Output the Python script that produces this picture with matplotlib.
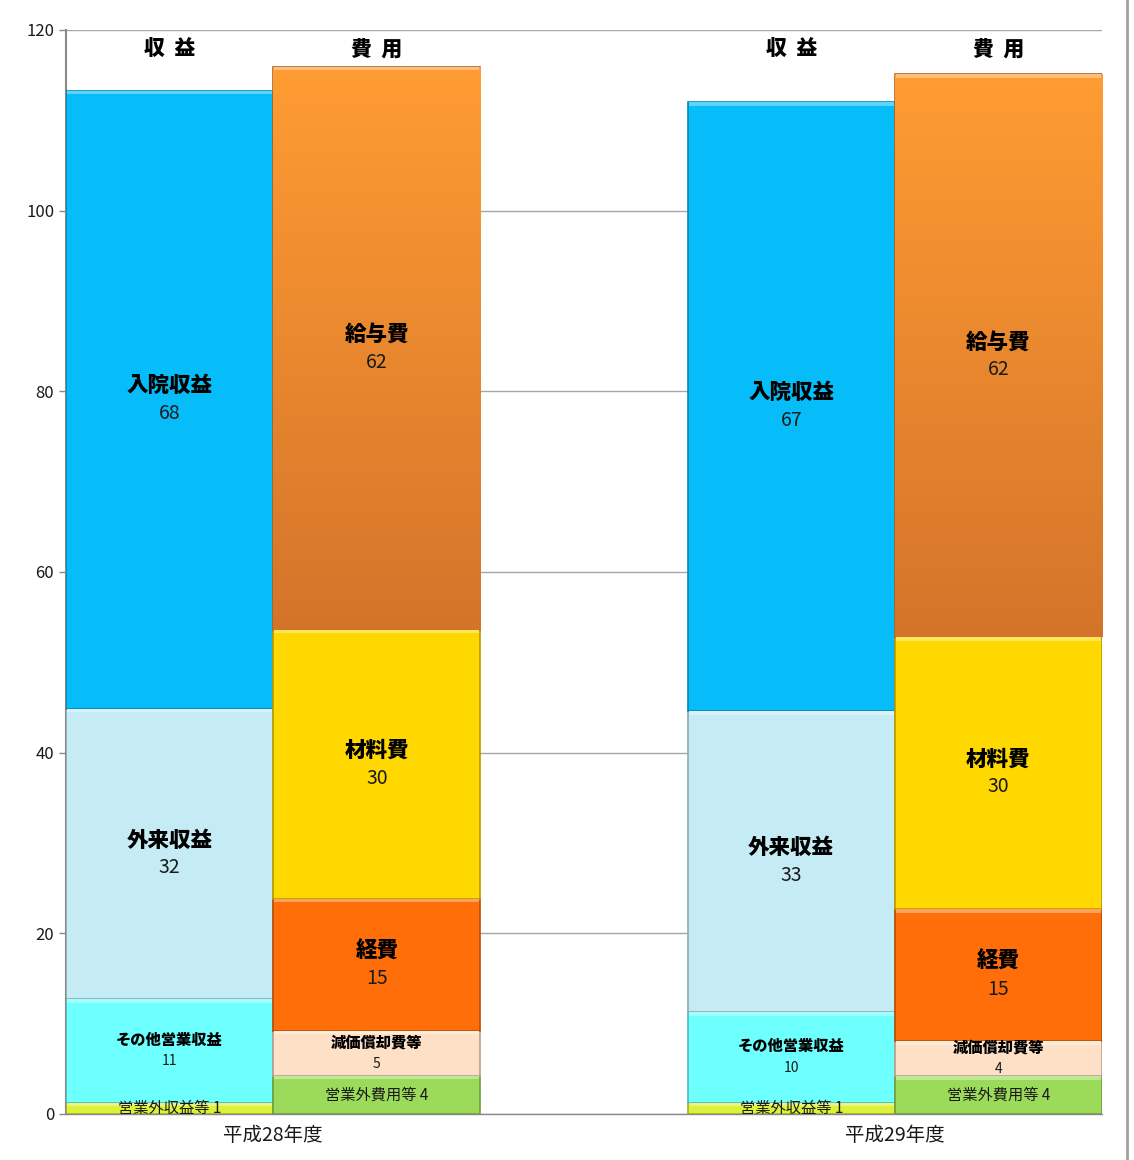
import numpy as np
import matplotlib
matplotlib.use("Agg")
import matplotlib.pyplot as plt
from matplotlib.colors import LinearSegmentedColormap, to_rgb
from matplotlib.lines import Line2D

plt.rcParams["font.family"] = ["Noto Sans CJK JP", "DejaVu Sans"]

# --- data ----------------------------------------------------------------
years = ["平成28年度", "平成29年度"]
headers = ["収  益", "費  用"]

rev_names = ["営業外収益等", "その他営業収益", "外来収益", "入院収益"]
rev_h28 = [1.25, 11.45, 32.15, 68.45]
rev_h29 = [1.25, 10.05, 33.3, 67.4]
rev_lbl_h28 = [1, 11, 32, 68]
rev_lbl_h29 = [1, 10, 33, 67]
rev_colors = ["#DDF03A", "#6EFFFF", "#C5EBF5", "#06BDFA"]

cost_names = ["営業外費用等", "減価償却費等", "経費", "材料費", "給与費"]
cost_h28 = [4.24, 4.98, 14.6, 29.8, 62.3]
cost_h29 = [4.2, 3.85, 14.65, 30.1, 62.3]
cost_lbl_h28 = [4, 5, 15, 30, 62]
cost_lbl_h29 = [4, 4, 15, 30, 62]
cost_colors = ["#9BDB59", "#FDE0C6", "#FF6E08", "#FFD800", "#F08A2C"]
salary_grad = ["#D4742A", "#FF9C33"]   # bottom -> top

# label style per segment: (bold name size, value size, offset pt, inline)
rev_style = [(11, 11, 0, True), (11, 10, 7.5, False), (15.5, 14, 10, False), (15.5, 14, 10, False)]
cost_style = [(11, 11, 0, True), (11, 10, 7.5, False), (15.5, 14, 10, False),
              (15.5, 14, 10, False), (15.5, 14, 10, False)]


def shade(c, f):
    r, g, b = to_rgb(c)
    if f < 1:
        return (r * f, g * f, b * f)
    t = f - 1
    return (r + (1 - r) * t, g + (1 - g) * t, b + (1 - b) * t)


def draw_stack(ax, x, heights, labels, names, colors, styles, grad_idx=None):
    bottom = 0.0
    for i, (h, lab, nm, col, st) in enumerate(zip(heights, labels, names, colors, styles)):
        bars = ax.bar(x, h, width=1.0, bottom=bottom, color=col,
                      edgecolor=shade(col, 0.72), linewidth=1.2, zorder=3)
        if grad_idx is not None and i == grad_idx:
            cmap = LinearSegmentedColormap.from_list("g", salary_grad)
            grad = np.linspace(0, 1, 256).reshape(-1, 1)
            im = ax.imshow(grad, extent=[x - 0.5, x + 0.5, bottom, bottom + h],
                           origin="lower", cmap=cmap, aspect="auto", zorder=3.1)
            im.set_clip_path(bars[0])
            top_col = salary_grad[1]
        else:
            top_col = col
        # bevel highlight on top of segment
        hl = min(0.4, h * 0.3)
        ax.bar(x, hl, width=0.99, bottom=bottom + h - hl,
               color=shade(top_col, 1.35), linewidth=0, zorder=3.2)
        mid = bottom + h / 2
        nsize, vsize, off, inline = st
        if inline:
            ax.text(x, mid, f"{nm} {lab}", ha="center", va="center",
                    fontsize=nsize, color="#1a1a1a", zorder=5, clip_on=True)
        else:
            ax.annotate(nm, (x, mid), xytext=(0, off), textcoords="offset points",
                        ha="center", va="center", fontsize=nsize, fontweight="black",
                        color="black", zorder=5)
            ax.annotate(str(lab), (x, mid), xytext=(0, -off), textcoords="offset points",
                        ha="center", va="center", fontsize=vsize, color="#1a1a1a", zorder=5)
        bottom += h


fig = plt.figure(figsize=(11.34, 11.6), dpi=100)
ax = fig.add_axes([66 / 1134, 46 / 1160, 1036 / 1134, 1084 / 1160])

draw_stack(ax, 0, rev_h28, rev_lbl_h28, rev_names, rev_colors, rev_style)
draw_stack(ax, 1, cost_h28, cost_lbl_h28, cost_names, cost_colors, cost_style, grad_idx=4)
draw_stack(ax, 3, rev_h29, rev_lbl_h29, rev_names, rev_colors, rev_style)
draw_stack(ax, 4, cost_h29, cost_lbl_h29, cost_names, cost_colors, cost_style, grad_idx=4)

for xs in [(0, 1), (3, 4)]:
    for xi, hd in zip(xs, headers):
        ax.text(xi, 117.9, hd, ha="center", va="center", fontsize=15,
                fontweight="black", color="black")

ax.set_xlim(-0.5, 4.5)
ax.set_ylim(0, 120)
ax.set_yticks(np.arange(0, 121, 20))
ax.set_xticks([0.5, 3.5])
ax.set_xticklabels(years, fontsize=14, color="#1a1a1a")
ax.tick_params(axis="x", length=0, pad=8)
ax.tick_params(axis="y", labelsize=12, colors="#1a1a1a", length=5, width=1, color="#888888")
ax.grid(axis="y", color="#A6A6A6", linewidth=1, zorder=0)
ax.set_axisbelow(True)
for s in ["top", "right"]:
    ax.spines[s].set_visible(False)
ax.spines["left"].set_color("#888888")
ax.spines["left"].set_linewidth(1.5)
ax.spines["bottom"].set_color("#888888")
ax.spines["bottom"].set_linewidth(1)

fig.add_artist(Line2D([1127 / 1134] * 2, [0, 1], transform=fig.transFigure,
                      color="#A0A0A0", linewidth=2))

fig.savefig("out.png", dpi=100)
